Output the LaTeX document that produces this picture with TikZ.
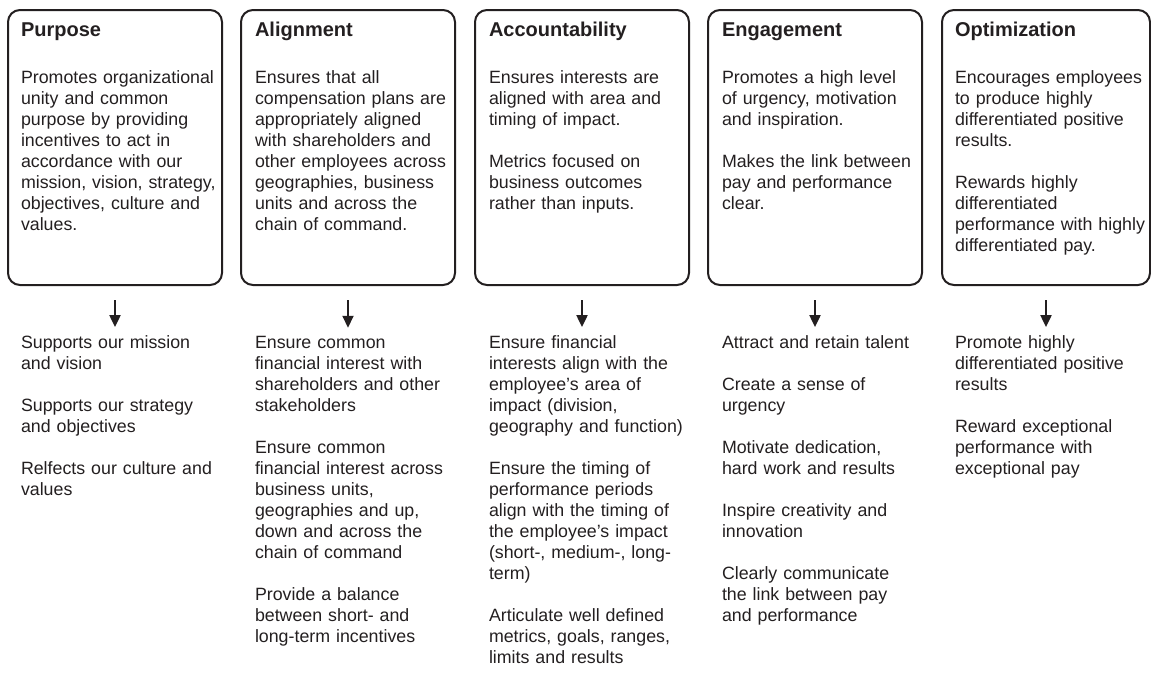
\documentclass[tikz,border=0pt]{standalone}
\usepackage{fontspec}
\setmainfont{Liberation Sans}
\usepackage{xcolor}
\usetikzlibrary{arrows.meta}
\definecolor{ink}{HTML}{231F20}

\tikzset{
  card/.style={draw=ink, rounded corners=12pt, minimum width=214pt, minimum height=275pt, inner sep=0pt},
  head/.style={anchor=base west, inner sep=0pt, font=\fontsize{20}{24}\selectfont\bfseries},
  desc/.style={anchor=base west, inner sep=0pt, text width=205pt, align=left, font=\fontsize{17.8}{21}\selectfont},
}

\begin{document}
\begin{tikzpicture}[x=1pt, y=-1pt, ->, >={Triangle[width=11pt,length=12pt]}, shorten <=14pt, shorten >=7pt, line width=2pt, text=ink, draw=ink]
\useasboundingbox (0,0) rectangle (1151,673);

% the five cards
\node[card] (pur) at (115,147.5) {};
\node[card] (ali) at (348,147.5) {};
\node[card] (acc) at (582,147.5) {};
\node[card] (eng) at (815,147.5) {};
\node[card, minimum width=208pt] (opt) at (1046,147.5) {};

\node[head] (purT) at (20,36) {Purpose};
\node[head] (aliT) at (254,36) {Alignment};
\node[head] (accT) at (488,36) {Accountability};
\node[head] (engT) at (721,36) {Engagement};
\node[head] (optT) at (954,36) {Optimization};

\node[desc] (purD) at (20,83) {Promotes organizational\\ unity and common\\ purpose by providing\\ incentives to act in\\ accordance with our\\ mission, vision, strategy,\\ objectives, culture and\\ values.};
\node[desc] (aliD) at (254,83) {Ensures that all\\ compensation plans are\\ appropriately aligned\\ with shareholders and\\ other employees across\\ geographies, business\\ units and across the\\ chain of command.};
\node[desc] (accD) at (488,83) {Ensures interests are\\ aligned with area and\\ timing of impact.\\[21pt] Metrics focused on\\ business outcomes\\ rather than inputs.};
\node[desc] (engD) at (721,83) {Promotes a high level\\ of urgency, motivation\\ and inspiration.\\[21pt] Makes the link between\\ pay and performance\\ clear.};
\node[desc] (optD) at (954,83) {Encourages employees\\ to produce highly\\ differentiated positive\\ results.\\[21pt] Rewards highly\\ differentiated\\ performance with highly\\ differentiated pay.};

% what each one means below
\node[desc] (purL) at (20,348) {Supports our mission\\ and vision\\[21pt] Supports our strategy\\ and objectives\\[21pt] Relfects our culture and\\ values};
\node[desc] (aliL) at (254,348) {Ensure common\\ financial interest with\\ shareholders and other\\ stakeholders\\[21pt] Ensure common\\ financial interest across\\ business units,\\ geographies and up,\\ down and across the\\ chain of command\\[21pt] Provide a balance\\ between short- and\\ long-term incentives};
\node[desc] (accL) at (488,348) {Ensure financial\\ interests align with the\\ employee’s area of\\ impact (division,\\ geography and function)\\[21pt] Ensure the timing of\\ performance periods\\ align with the timing of\\ the employee’s impact\\ (short-, medium-, long-\\ term)\\[21pt] Articulate well defined\\ metrics, goals, ranges,\\ limits and results};
\node[desc] (engL) at (721,348) {Attract and retain talent\\[21pt] Create a sense of\\ urgency\\[21pt] Motivate dedication,\\ hard work and results\\[21pt] Inspire creativity and\\ innovation\\[21pt] Clearly communicate\\ the link between pay\\ and performance};
\node[desc] (optL) at (954,348) {Promote highly\\ differentiated positive\\ results\\[21pt] Reward exceptional\\ performance with\\ exceptional pay};

\path
(pur.south) edge (pur.south |- purL.north)
(ali.south) edge (ali.south |- aliL.north)
(acc.south) edge (acc.south |- accL.north)
(eng.south) edge (eng.south |- engL.north)
(opt.south) edge (opt.south |- optL.north);
\end{tikzpicture}
\end{document}
